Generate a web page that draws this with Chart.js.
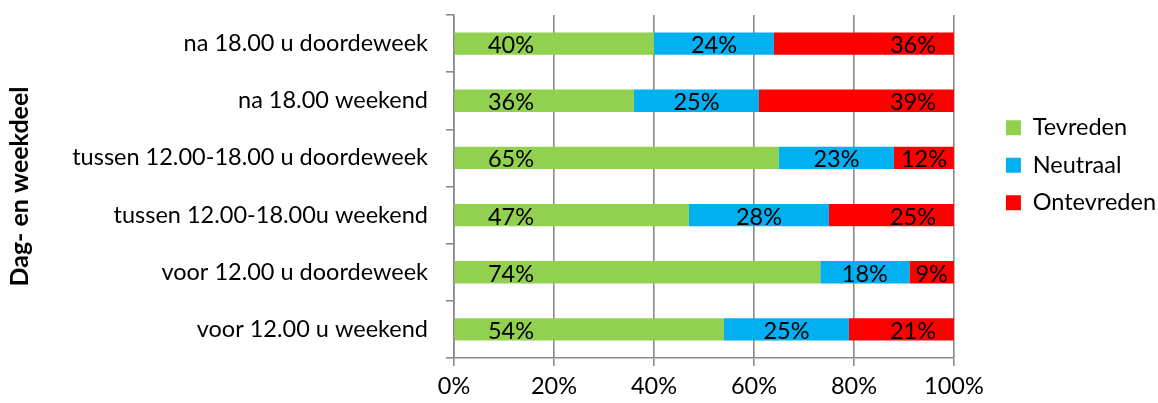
<!DOCTYPE html>
<html>
<head>
<meta charset="utf-8">
<script src="https://cdn.jsdelivr.net/npm/chart.js@4.4.1/dist/chart.umd.min.js"></script>
<style>
  html, body { margin: 0; padding: 0; background: #fff; }
  #wrap { width: 1158px; height: 403px; }
</style>
</head>
<body>
<div id="wrap"><canvas id="chart"></canvas></div>
<script>
// values (percent per row)
const categories = [
    'na 18.00 u doordeweek',
    'na 18.00 weekend',
    'tussen 12.00-18.00 u doordeweek',
    'tussen 12.00-18.00u weekend',
    'voor 12.00 u doordeweek',
    'voor 12.00 u weekend'
];
const tevreden = [40, 36, 65, 47, 74, 54];
const neutraal = [24, 25, 23, 28, 18, 25];
const ontevreden = [36, 39, 12, 25, 9, 21];
const seriesNames = ['Tevreden', 'Neutraal', 'Ontevreden'];
const xTickValues = [0, 20, 40, 60, 80, 100];

const FONT = 'Lato';
const GRID = '#8a8a8a';
const colors = ['#92D050', '#00B0F0', '#FF0000'];
// where each series' labels sit on the value axis (null = middle of the segment)
const labelAnchor = [11.4, null, 91.8];

const rows = [tevreden, neutraal, ontevreden];
// 100% stacked: each row is scaled to its own total
const totals = categories.map((c, i) => tevreden[i] + neutraal[i] + ontevreden[i]);
const share = (arr) => arr.map((v, i) => v / totals[i] * 100);

const segmentLabels = {
    id: 'segmentLabels',
    afterDatasetsDraw(chart) {
        const ctx = chart.ctx;
        const xs = chart.scales.x;
        ctx.save();
        ctx.font = '23.5px ' + FONT;
        ctx.fillStyle = '#000';
        ctx.textAlign = 'center';
        ctx.textBaseline = 'middle';
        chart.data.datasets.forEach((ds, d) => {
            chart.getDatasetMeta(d).data.forEach((bar, i) => {
                const p = bar.getProps(['x', 'y', 'base'], true);
                const mid = (p.x + p.base) / 2;
                let x = mid;
                if (d === 0) x = xs.getPixelForValue(labelAnchor[0]);
                if (d === 2) x = Math.max(xs.getPixelForValue(labelAnchor[2]), mid);
                ctx.fillText(rows[d][i] + '%', x, p.y + 2);
            });
        });
        ctx.restore();
    }
};

const legendShift = {
    id: 'legendShift',
    afterLayout(chart) {
        const lg = chart.legend;
        lg.left += 38;
        lg.right += 38;
    }
};

new Chart(document.getElementById('chart'), {
    type: 'bar',
    data: {
        labels: categories,
        datasets: rows.map((r, d) => ({
            label: seriesNames[d],
            data: share(r),
            backgroundColor: colors[d],
            borderWidth: 0,
            barPercentage: 0.39,
            categoryPercentage: 1
        }))
    },
    options: {
        indexAxis: 'y',
        responsive: true,
        maintainAspectRatio: false,
        animation: false,
        layout: { padding: { top: 15, right: 30, bottom: 0, left: 0 } },
        scales: {
            x: {
                stacked: true,
                min: 0,
                max: 100,
                afterBuildTicks: (s) => { s.ticks = xTickValues.map(v => ({ value: v })); },
                afterFit: (s) => { s.height = 45; },
                grid: { color: GRID, lineWidth: 1.6, tickLength: 8, tickColor: GRID, tickWidth: 1.6 },
                border: { color: GRID, width: 1.6 },
                ticks: {
                    color: '#000',
                    padding: 6,
                    font: { family: FONT, size: 23.5 },
                    callback: (v) => v + '%'
                }
            },
            y: {
                stacked: true,
                afterFit: (s) => {
                    s.width = 454;
                    s.paddingTop = 0;
                    s.paddingBottom = 0;
                },
                grid: { drawOnChartArea: false, tickLength: 8, color: GRID, lineWidth: 1.6 },
                border: { color: GRID, width: 1.6 },
                ticks: {
                    color: '#000',
                    padding: 18,
                    font: { family: FONT, size: 23.5 }
                },
                title: {
                    display: true,
                    text: 'Dag- en weekdeel',
                    color: '#000',
                    padding: { top: 5, bottom: 0 },
                    font: { family: FONT, size: 25, weight: 'bold' }
                }
            }
        },
        plugins: {
            tooltip: { enabled: false },
            legend: {
                position: 'right',
                align: 'start',
                title: { display: true, text: '', font: { size: 10 }, padding: { top: 75, bottom: 0 } },
                labels: {
                    boxWidth: 15,
                    boxHeight: 15,
                    padding: 14,
                    color: '#000',
                    font: { family: FONT, size: 23.5 }
                }
            }
        }
    },
    plugins: [segmentLabels, legendShift]
});
</script>
</body>
</html>
